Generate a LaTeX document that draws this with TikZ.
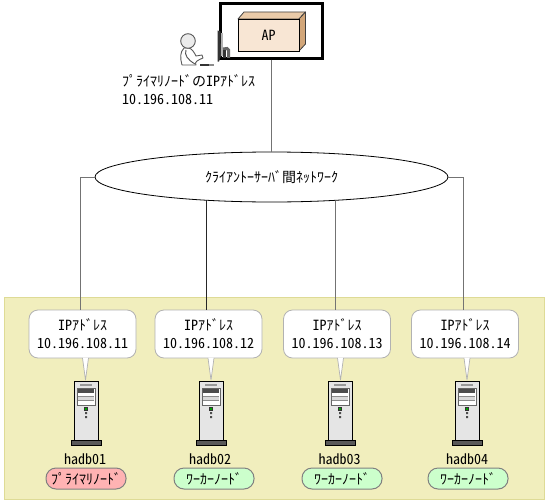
\documentclass[tikz,border=0pt]{standalone}
\usepackage{fontspec}
\setmainfont{Noto Sans CJK JP}[RawFeature=+hwid]
\usetikzlibrary{shapes.geometric}
\definecolor{panelc}{HTML}{F1EEBD}
\definecolor{panelb}{HTML}{DEDB96}
\definecolor{pinkc}{HTML}{FFB3B3}
\definecolor{greenc}{HTML}{CCFFCC}
\definecolor{boxf}{HTML}{F8E6D4}
\definecolor{boxt}{HTML}{EACBA9}
\definecolor{boxs}{HTML}{D2A679}
\tikzset{
  x=1pt,y=-1pt,
  net/.style={draw=black!55,line width=1pt},
  balloon/.style={draw=black!30,fill=white,line width=.8pt,rounded corners=9pt,minimum width=107pt,minimum height=48pt,inner sep=0pt,align=center,font=\fontsize{14pt}{18pt}\selectfont},
  pillbox/.style={draw=black!50,line width=1pt,rounded corners=10pt,minimum width=80pt,minimum height=21pt,inner sep=0pt,font=\fontsize{14pt}{16pt}\selectfont},
  lbl/.style={font=\fontsize{14pt}{16pt}\selectfont,inner sep=0pt},
}
\newcommand{\srv}[1]{%
  \begin{scope}[shift={(#1,0)}]
    \fill[black!10,draw=black,line width=.9pt] (-12,381) rectangle (12,440);
    \fill[black!40] (-6,384) rectangle (6,385.5);
    \draw[black!60,fill=white,line width=.7pt] (-9,388) rectangle (9,405);
    \fill[black!70] (-8,389) rectangle (8,393);
    \fill[black!15] (-8,396) rectangle (8,400);
    \draw[black!45,line width=.5pt] (-8,396)--(8,396) (-8,400)--(8,400);
    \fill[green!65!black,draw=black!80,line width=.3pt] (-1.5,407.5) rectangle (1.5,410);
    \fill[black!70] (-1,412) rectangle (1,414) (-1,416) rectangle (1,418);
    \fill[black!65,draw=black,line width=.5pt] (-15,440) rectangle (15.5,445);
  \end{scope}
}
\newcommand{\tail}[1]{%
  \fill[white] (#1-3,357.5) -- (#1,380) -- (#1+3,357.5) -- cycle;
  \draw[black!30,line width=.7pt,line join=round] (#1-3,358) -- (#1,380) -- (#1+3,358);
}
\begin{document}
\begin{tikzpicture}
\useasboundingbox (0,0) rectangle (548,503);
% panel
\draw[fill=panelc,draw=panelb,line width=1pt] (4,297) rectangle (544,499);
% AP
\node[draw=black,fill=white,line width=2.2pt,minimum width=102pt,minimum height=55pt,inner sep=0pt] (apframe) at (271.5,31) {};
\fill[boxt,draw=black!75,line width=.8pt,line join=round] (238,19) -- (244,12) -- (305.5,12) -- (299,19) -- cycle;
\fill[boxs,draw=black!75,line width=.8pt,line join=round] (299,19) -- (305.5,12) -- (305.5,44) -- (299,51) -- cycle;
\node[draw=black,fill=boxf,line width=.9pt,minimum width=61pt,minimum height=32pt,inner sep=0pt,font=\fontsize{14pt}{16pt}\selectfont] (ap) at (268.5,35) {AP};
% person
\fill[white,draw=black!65,line width=.9pt,line join=round] (184,48) .. controls (180,52) and (180,58) .. (182,65) -- (196,65) .. controls (194,62) and (198,60) .. (203,58) -- (202,55) -- (196,56) .. controls (194,52) and (192,49) .. (189,48) -- cycle;
\draw[black!70,line width=.9pt] (186,50) .. controls (184,55) and (188,60) .. (195,64);
\fill[black!8,draw=black!65,line width=.9pt] (188,41) circle (7.3);
\fill[black!80] (200,63.5) rectangle (209,65.5);
\fill[black!45] (209,63.5) rectangle (214,65.5);
\fill[black!80] (217.5,30.5) -- (220.5,31.5) -- (221,56) -- (219,61.5) -- (217.5,61.5) -- cycle;
\fill[black!30] (221,33) rectangle (223,56);
\draw[black!60,line width=3pt] (223,49) -- (227,48.5) -- (228.5,50) -- (228.5,58);
\draw[black!80,line width=3pt] (224.5,50) -- (224.5,60);
\draw[black,line width=1.6pt] (220,59) -- (230,59);
% person's text
\node[font=\fontsize{14pt}{17.5pt}\selectfont,inner sep=0pt,align=left,anchor=north west] (iptext) at (122,74.5) {ﾌﾟﾗｲﾏﾘﾉｰﾄﾞのIPｱﾄﾞﾚｽ\\10.196.108.11};
% network
\node[draw=black,fill=white,ellipse,line width=.8pt,minimum width=353pt,minimum height=50pt,inner sep=0pt,font=\fontsize{14pt}{16pt}\selectfont] (lan) at (271.5,177) {ｸﾗｲｱﾝﾄｰｻｰﾊﾞ間ﾈｯﾄﾜｰｸ};
\draw[net] (apframe.south -| lan.north) -- (lan.north);
% balloons
\node[balloon] (b1) at (82.5,334) {IPｱﾄﾞﾚｽ\\10.196.108.11};
\node[balloon] (b2) at (208.5,334) {IPｱﾄﾞﾚｽ\\10.196.108.12};
\node[balloon] (b3) at (337,334) {IPｱﾄﾞﾚｽ\\10.196.108.13};
\node[balloon] (b4) at (465,334) {IPｱﾄﾞﾚｽ\\10.196.108.14};
\tail{85.5}\tail{211}\tail{340.5}\tail{467}
% connectors
\coordinate (c1) at (80,310);
\coordinate (c2) at (206,310);
\coordinate (c3) at (335,310);
\coordinate (c4) at (463,310);
\draw[net] (lan.west) -| (c1);
\draw[black!85,line width=.9pt] (lan.199.4 -| c2) -- (c2);
\draw[net] (lan.340.2 -| c3) -- (c3);
\draw[net] (lan.east) -| (c4);
% servers
\srv{86}\srv{211}\srv{340}\srv{467}
\node[lbl] (h1) at (85,459.5) {hadb01};
\node[lbl] (h2) at (210,459.5) {hadb02};
\node[lbl] (h3) at (339.5,459.5) {hadb03};
\node[lbl] (h4) at (467,459.5) {hadb04};
\node[pillbox,fill=pinkc] (p1) at (86,478.5) {ﾌﾟﾗｲﾏﾘﾉｰﾄﾞ};
\node[pillbox,fill=greenc] (p2) at (214,478.5) {ﾜｰｶｰﾉｰﾄﾞ};
\node[pillbox,fill=greenc] (p3) at (342,478.5) {ﾜｰｶｰﾉｰﾄﾞ};
\node[pillbox,fill=greenc] (p4) at (468,478.5) {ﾜｰｶｰﾉｰﾄﾞ};
\end{tikzpicture}
\end{document}
